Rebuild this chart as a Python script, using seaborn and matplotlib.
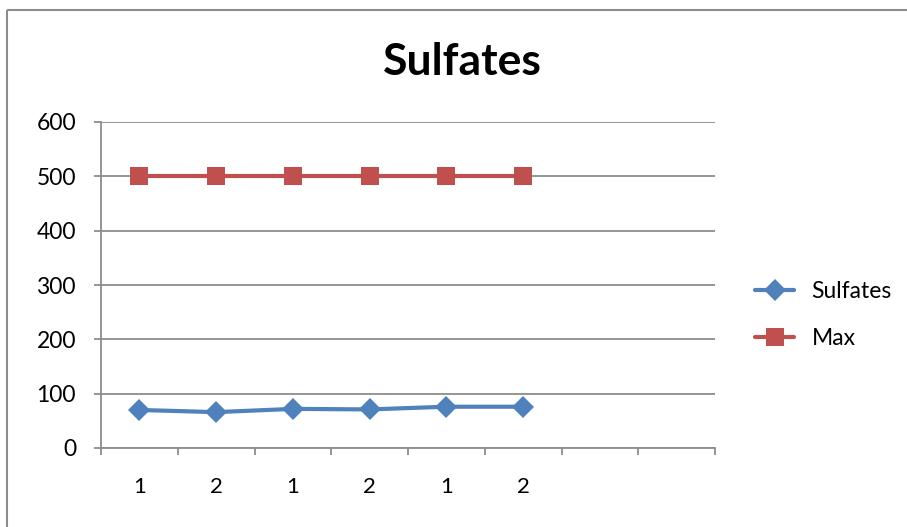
import pandas as pd
import matplotlib.pyplot as plt
import seaborn as sns
from matplotlib.patches import Rectangle

# Datos
etiquetas_x = ["1", "2", "1", "2", "1", "2"]
sulfates = [70, 66, 72, 71, 76, 76]
max_vals = [500, 500, 500, 500, 500, 500]
n_categorias = 8  # el eje tiene 8 huecos, los dos últimos vacíos

sns.set_theme(style="white")
plt.rcParams["font.family"] = ["Lato", "DejaVu Sans"]
plt.rcParams["text.color"] = "black"
plt.rcParams["xtick.labelcolor"] = "black"
plt.rcParams["ytick.labelcolor"] = "black"

df = pd.DataFrame({
    "pos": list(range(len(sulfates))) * 2,
    "valor": sulfates + max_vals,
    "serie": ["Sulfates"] * len(sulfates) + ["Max"] * len(max_vals),
})

fig = plt.figure(figsize=(9.07, 5.27), dpi=100)
ax = fig.add_axes([101 / 907, 1 - 448 / 527, 614 / 907, 326 / 527])

# marco exterior del gráfico
fig.patches.append(Rectangle((7 / 907, 1 - 10 / 527), 1.0, -1.0, transform=fig.transFigure,
                             fill=False, edgecolor="#8c8c8c", linewidth=1.5))

colores = {"Sulfates": "#4F81BD", "Max": "#C0504D"}
marcadores = {"Sulfates": "D", "Max": "s"}
sns.lineplot(data=df, x="pos", y="valor", hue="serie", style="serie",
             palette=colores, markers=marcadores, dashes=False,
             linewidth=3, markersize=11, markeredgewidth=0, ax=ax)
for ln in ax.lines:
    if ln.get_marker() == "s":
        ln.set_markersize(13)

ax.set_xlim(-0.5, n_categorias - 0.5)
ax.set_ylim(0, 600)
ax.set_yticks(range(0, 601, 100))
ax.set_xticks(range(len(etiquetas_x)))
ax.set_xticklabels(etiquetas_x)
ax.set_xticks([i - 0.5 for i in range(n_categorias + 1)], minor=True)
ax.tick_params(axis="x", which="major", length=0, pad=21, labelsize=16)
ax.tick_params(axis="x", which="minor", length=5, width=1.3, color="#8c8c8c", direction="out", bottom=True)
ax.tick_params(axis="y", length=5, width=1.3, color="#8c8c8c", direction="out", left=True, pad=13, labelsize=16.5)
ax.grid(axis="y", color="#8c8c8c", linewidth=1.3)
ax.set_axisbelow(True)
for lado in ["top", "right"]:
    ax.spines[lado].set_visible(False)
for lado in ["left", "bottom"]:
    ax.spines[lado].set_color("#8c8c8c")
    ax.spines[lado].set_linewidth(1.3)
ax.set_xlabel("")
ax.set_ylabel("")

fig.text(462 / 907, 1 - 62 / 527, "Sulfates", ha="center", va="center",
         fontsize=32, fontweight="bold", color="black")

ley = ax.legend(loc="center left", bbox_to_anchor=(1.032, 0.408), frameon=False,
                fontsize=16.5, handlelength=1.7, labelspacing=1.15, handletextpad=0.75)
for t in ley.get_texts():
    t.set_color("black")

fig.savefig("out.png", dpi=100)
